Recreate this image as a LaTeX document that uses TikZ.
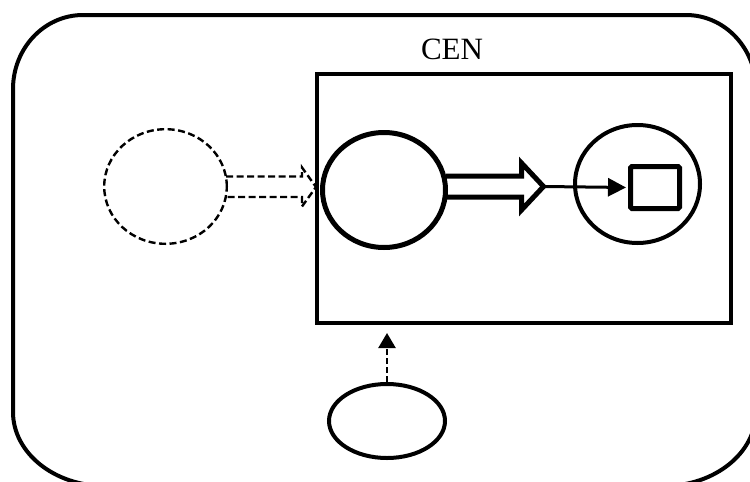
\documentclass[tikz,border=0pt]{standalone}
\usepackage{fontspec}
\setmainfont{Liberation Serif}
\usetikzlibrary{shapes.geometric,arrows.meta,calc}
\tikzset{
  solidell/.style={draw=black, ellipse, inner sep=0pt, line width=#1},
  dashell/.style={draw=black, ellipse, inner sep=0pt, line width=2.4pt, dash pattern=on 7pt off 3.5pt},
  hollowarrow/.style={draw=black, line width=5pt, line join=miter, miter limit=10},
  dashhollow/.style={draw=black, line width=2.4pt, dash pattern=on 7pt off 3.5pt, line join=miter},
  thinarrow/.style={draw=black, line width=3pt, -{Triangle[length=18pt,width=18pt]}},
  dasharrow/.style={draw=black, line width=2.4pt, dash pattern=on 6pt off 3pt, -{Triangle[length=15pt,width=17pt]}}
}
\begin{document}
\begin{tikzpicture}[x=1pt,y=-1pt]
\useasboundingbox (0,0) rectangle (750,482);
% outer rounded frame (partly outside the picture)
\draw[line width=4pt] (13,89) -- (13,412)
  arc[start angle=180, end angle=270, x radius=92pt, y radius=74pt] -- (664,486)
  arc[start angle=270, end angle=360, x radius=92pt, y radius=74pt] -- (756,89)
  arc[start angle=0, end angle=90, x radius=70pt, y radius=74pt] -- (83,15)
  arc[start angle=90, end angle=180, x radius=70pt, y radius=74pt] -- cycle;
% CEN box
\node[draw=black, line width=4.5pt, minimum width=414pt, minimum height=249pt, inner sep=0pt] (cen) at (524,198.5) {};
\node[font=\fontsize{31}{31}\selectfont, anchor=base, inner sep=0pt] (cenlab) at (452,59) {CEN};
% circles
\node[dashell, minimum width=122.6pt, minimum height=114.6pt] (l) at (165.5,186.5) {};
\node[solidell=5pt, minimum width=123pt, minimum height=115pt] (m) at (384,190) {};
\node[solidell=4pt, minimum width=125pt, minimum height=118pt] (r) at (637.5,184) {};
\node[draw=black, line width=5pt, rounded corners=1.5pt, minimum width=49pt, minimum height=42pt, inner sep=0pt] (sq) at (655,187.5) {};
\node[solidell=4pt, minimum width=116pt, minimum height=74pt] (b) at (387,421) {};
% dashed hollow arrow from l
\draw[dashhollow] ($(l.east)+(-2,-10)$) -- ++(76,0) -- ++(0,-9) -- ++(14,19.5) -- ++(-14,19.5) -- ++(0,-9.5) -- ++(-76,0);
% solid hollow arrow from m
\draw[hollowarrow] ($(m.east)+(-2,-14)$) -- ++(75.5,0) -- ++(0,-13) -- ++(22,23.5) coordinate (tip) -- ++(-22,23.5) -- ++(0,-13) -- ++(-75.5,0);
% thin arrow to square
\draw[thinarrow, shorten >=2pt] (tip) -- (sq.west);
% dashed arrow from bottom ellipse
\draw[dasharrow, shorten >=7.75pt] (b.north) -- (b.north |- cen.south);
\end{tikzpicture}
\end{document}
